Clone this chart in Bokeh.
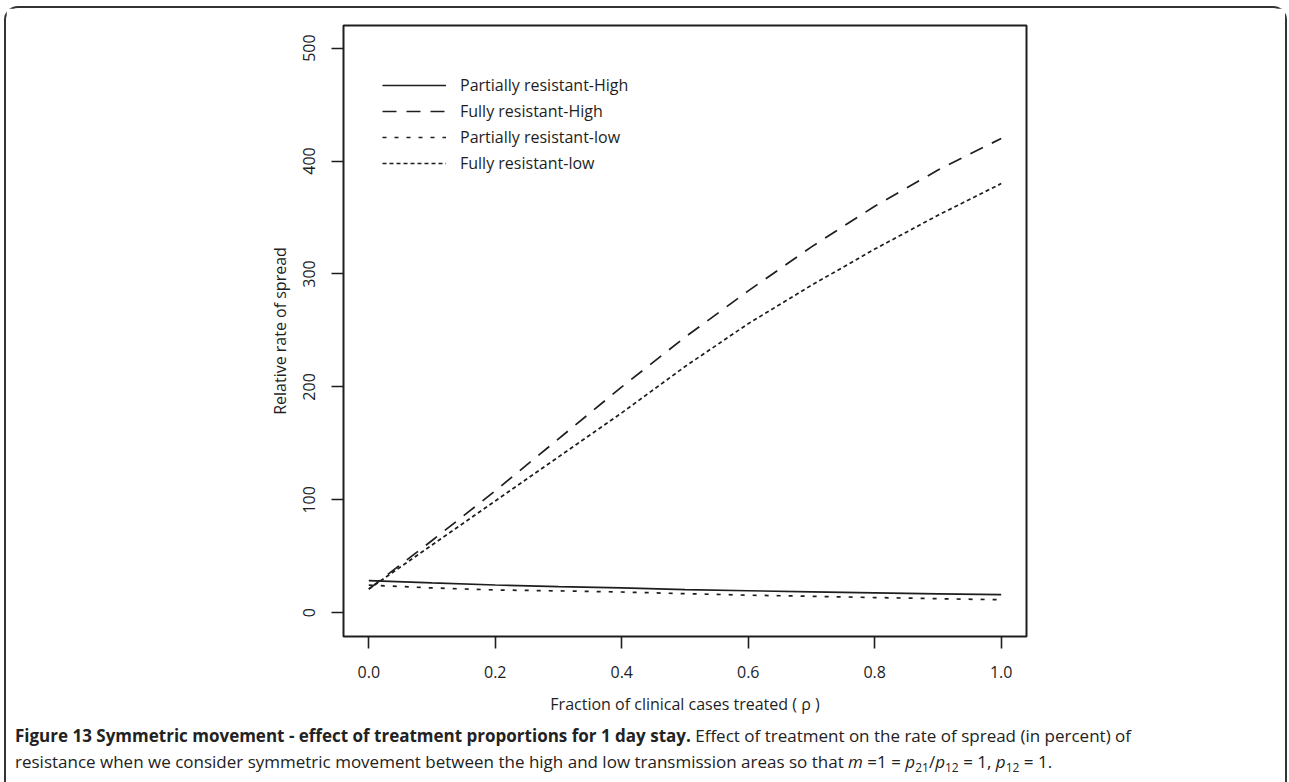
from bokeh.plotting import figure
from bokeh.models import Range1d, FixedTicker, Legend, LegendItem, Div
from bokeh.layouts import column
from bokeh.embed import file_html
from bokeh.resources import INLINE

rho = [0.0, 0.1, 0.2, 0.3, 0.4, 0.5, 0.6, 0.7, 0.8, 0.9, 1.0]
partial_high = [28.5, 26.5, 24.6, 23.2, 22.0, 20.5, 19.5, 18.6, 17.6, 16.8, 16.0]
fully_high = [21, 64, 108, 154, 200, 244, 285, 324, 360, 392, 420]
partial_low = [24.5, 22.0, 20.2, 19.4, 18.4, 16.9, 15.6, 14.6, 13.5, 12.5, 11.5]
fully_low = [21, 60, 99, 138, 177, 218, 256, 290, 322, 352, 380]

x_ticks = [0.0, 0.2, 0.4, 0.6, 0.8, 1.0]
x_tick_labels = ["0.0", "0.2", "0.4", "0.6", "0.8", "1.0"]
y_ticks = [0, 100, 200, 300, 400, 500]

series_names = ["Partially resistant-High", "Fully resistant-High",
                "Partially resistant-low", "Fully resistant-low"]

FONT = "Open Sans"
INK = "#1e1e1e"

W = 1279
H = 710
LEFT, TOP, FW, FH = 337, 17, 683, 611
p = figure(width=W, height=H, output_backend="svg", toolbar_location=None,
           x_range=Range1d(-0.04, 1.04), y_range=Range1d(-21, 520),
           min_border_left=LEFT, min_border_top=TOP, min_border_right=W - LEFT - FW,
           min_border_bottom=H - TOP - FH)
p.grid.visible = False
p.outline_line_color = INK
p.outline_line_width = 2
p.background_fill_color = "white"
p.border_fill_color = "white"

for ax in (p.xaxis[0], p.yaxis[0]):
    ax.axis_line_color = None
    ax.major_tick_line_color = INK
    ax.major_tick_line_width = 1.6
    ax.major_tick_out = 12
    ax.major_tick_in = 0
    ax.minor_tick_line_color = None
    ax.major_label_text_font = FONT
    ax.major_label_text_font_size = "16px"
    ax.major_label_text_color = INK
    ax.axis_label_text_font = FONT
    ax.axis_label_text_font_size = "16px"
    ax.axis_label_text_font_style = "normal"
    ax.axis_label_text_color = INK

p.xaxis.ticker = FixedTicker(ticks=x_ticks)
p.xaxis.major_label_overrides = {t: s for t, s in zip(x_ticks, x_tick_labels)}
p.xaxis.major_label_standoff = 17
p.xaxis.axis_label = "Fraction of clinical cases treated ( \u03c1 )"
p.xaxis.axis_label_standoff = 12

p.yaxis.ticker = FixedTicker(ticks=y_ticks)
p.yaxis.major_label_orientation = "vertical"
p.yaxis.major_label_standoff = 16
p.yaxis.axis_label = "Relative rate of spread"
p.yaxis.axis_label_standoff = 10

r1 = p.line(rho, partial_high, line_color=INK, line_width=1.7)
r2 = p.line(rho, fully_high, line_color=INK, line_width=1.7, line_dash="14 10")
r3 = p.line(rho, partial_low, line_color=INK, line_width=1.7, line_dash="4 8")
r4 = p.line(rho, fully_low, line_color=INK, line_width=1.7, line_dash="4 3")

legend = Legend(items=[LegendItem(label=n, renderers=[r]) for n, r in
                       zip(series_names, [r1, r2, r3, r4])],
                location=(39, 460), orientation="vertical",
                glyph_width=64, glyph_height=26, label_height=26,
                spacing=0, padding=0, margin=0, label_standoff=14,
                border_line_color=None, background_fill_alpha=0,
                label_text_font=FONT, label_text_font_size="16px",
                label_text_color=INK)
p.add_layout(legend)

caption_html = (
    '<div style="font-family:\'Open Sans\'; font-size:17px; line-height:26px; color:#222; white-space:nowrap;">'
    '<b>Figure 13 Symmetric movement - effect of treatment proportions for 1 day stay.</b> '
    'Effect of treatment on the rate of spread (in percent) of<br>'
    'resistance when we consider symmetric movement between the high and low transmission areas so that '
    '<i>m</i> =1 = <i>p</i><sub style="font-size:12px">21</sub>/<i>p</i><sub style="font-size:12px">12</sub> = 1, '
    '<i>p</i><sub style="font-size:12px">12</sub> = 1.'
    '</div>'
)
cap = Div(text=caption_html, width=W - 10, height=54,
          styles={"padding-left": "4px", "padding-top": "0px"})

layout = column(p, cap, spacing=0,
                styles={"border": "2px solid #333", "border-bottom": "none",
                        "border-radius": "14px 14px 0 0", "background": "white",
                        "margin-left": "4px", "margin-top": "6px"})

open("out.html", "w").write(file_html(layout, INLINE))
